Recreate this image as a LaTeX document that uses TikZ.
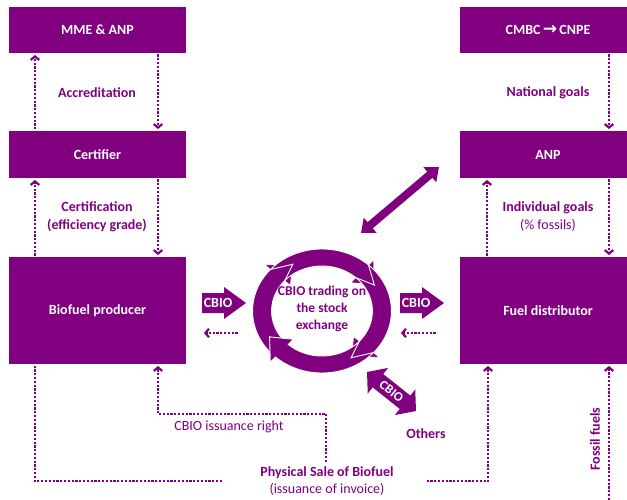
\documentclass[tikz,border=0pt]{standalone}
\usepackage{fontspec}
\setmainfont{Carlito}
\newfontfamily\dejavu{DejaVu Sans}
\usetikzlibrary{arrows.meta,calc}
\definecolor{pur}{HTML}{800080}
\begin{document}
\begin{tikzpicture}[x=1pt,y=-1pt,
  box/.style={fill=pur, text=white, font=\fontsize{14}{17}\selectfont\bfseries, inner sep=0pt, outer sep=0pt, anchor=north west},
  lbl/.style={text=pur, font=\fontsize{14}{17.5}\selectfont\bfseries, align=center, inner sep=0pt},
  dots/.style={draw=pur, line width=2.2pt, dash pattern=on 2.2pt off 1.6pt, shorten <=1.5pt},
  dotarr/.style={dots, shorten >=2pt, -{Straight Barb[length=3.5pt,width=8.5pt]}},
  blockfill/.style={fill=pur},
  seg/.style={fill=pur, draw=white, line width=0.9pt, line join=miter},
]
\useasboundingbox (0,0) rectangle (627,500);
\clip (0,0) rectangle (627,500);

% boxes
\node[box, minimum width=177pt, minimum height=46pt] (mme) at (9,7) {MME \& ANP};
\node[box, minimum width=177pt, minimum height=47pt] (cert) at (9,131) {Certifier};
\node[box, minimum width=177pt, minimum height=107pt] (prod) at (9,257) {Biofuel producer};
\node[box, minimum width=176pt, minimum height=46pt] (cmbc) at (460,7) {CMBC\,{\dejavu\bfseries\fontsize{17}{17}\selectfont →}\,CNPE};
\node[box, minimum width=176pt, minimum height=47pt] (anp) at (460,131) {ANP};
\node[box, minimum width=176pt, minimum height=107pt] (dist) at (460,257) {Fuel distributor};

% left vertical dotted arrows
\draw[dotarr] ([xshift=26pt]cert.north west) -- ([xshift=26pt]mme.south west);
\draw[dotarr] ([xshift=149pt]mme.south west) -- ([xshift=149pt]cert.north west);
\draw[dotarr] ([xshift=26pt]prod.north west) -- ([xshift=26pt]cert.south west);
\draw[dotarr] ([xshift=149pt]cert.south west) -- ([xshift=149pt]prod.north west);
% right vertical dotted arrows
\draw[dotarr] ([xshift=149pt]cmbc.south west) -- ([xshift=149pt]anp.north west);
\draw[dotarr] ([xshift=27pt]dist.north west) -- ([xshift=27pt]anp.south west);
\draw[dotarr] ([xshift=149pt]anp.south west) -- ([xshift=149pt]dist.north west);

% labels
\node[lbl] (accr) at (97,93) {Accreditation};
\node[lbl] (certif) at (97,217) {Certification\\(efficiency grade)};
\node[lbl] (natg) at (548,93) {National goals};
\node[lbl] (indg) at (548,216.5) {Individual goals\\{\mdseries (\% fossils)}};

% circular arrows
\begin{scope}[shift={(322,311)}, xscale=1.12, yscale=-1]
  \foreach \s/\e in {228/138, 138/48, 48/-42, -42/-132}{
    \path[seg] plot[domain=\s:\e, samples=40] (\x:62) -- (\e:69) -- ({\e-19}:53.5) -- (\e:38) -- (\e:45)
      -- plot[domain=\e:\s, samples=40] (\x:45) -- ({\s-19}:53.5) -- cycle;
  }
\end{scope}
\node[lbl, font=\fontsize{13.5}{17}\selectfont\bfseries] (trade) at (322,309) {CBIO trading on\\the stock\\exchange};

% block arrows CBIO
\fill[blockfill] (202,293) -- (224,293) -- (224,287) -- (246,303) -- (224,319) -- (224,313) -- (202,313) -- cycle;
\node[text=white, font=\fontsize{14}{17}\selectfont\bfseries, inner sep=0pt] (cbioL) at (218,303) {CBIO};
\fill[blockfill] (400,293) -- (422,293) -- (422,287) -- (444,303) -- (422,319) -- (422,313) -- (400,313) -- cycle;
\node[text=white, font=\fontsize{14}{17}\selectfont\bfseries, inner sep=0pt] (cbioR) at (416,303) {CBIO};

% small dotted return arrows
\coordinate (l1) at (239,333); \coordinate (l2) at (204,333);
\coordinate (r1) at (437,333); \coordinate (r2) at (401,333);
\draw[dotarr, shorten >=0pt] (l1) -- (l2);
\draw[dotarr, shorten >=0pt] (r1) -- (r2);

% diagonal double arrow
\coordinate (d1) at (361,233); \coordinate (d2) at (439,167);
\draw[pur, line width=8pt, {Triangle[length=12pt,width=19pt]}-{Triangle[length=12pt,width=19pt]}] (d1) -- (d2);

% CBIO double arrow to others
\coordinate (o1) at (367,372); \coordinate (o2) at (416,411);
\draw[pur, line width=17pt, {Triangle[length=14pt,width=32pt]}-{Triangle[length=14pt,width=32pt]}] (o1) -- (o2);
\node[text=white, font=\fontsize{13}{15}\selectfont\bfseries, rotate=-38, inner sep=0pt] (cbioO) at ($(o1)!0.5!(o2)$) {CBIO};
\node[lbl] (others) at (426,434) {Others};

% bottom flows
\node[lbl] (phys) at (327,481) {Physical Sale of Biofuel\\{\mdseries (issuance of invoice)}};
\coordinate (pw) at (222,481); \coordinate (pe) at (425,481);
\draw[dots] ([xshift=26pt]prod.south west) |- (pw);
\draw[dotarr] (pe) -| ([xshift=28pt]dist.south west);

\coordinate (ci) at (326,462);
\draw[dotarr, shorten <=0pt] (ci) -- ++(0,-48) -| ([xshift=149pt]prod.south west);
\node[lbl, font=\fontsize{14}{17}\selectfont] (issr) at (229,427) {CBIO issuance right};

\coordinate (ff) at (609,500);
\draw[dotarr, shorten <=0pt] (ff) -- ([xshift=149pt]dist.south west);
\node[lbl, rotate=90] (fossil) at (595,439) {Fossil fuels};
\end{tikzpicture}
\end{document}
